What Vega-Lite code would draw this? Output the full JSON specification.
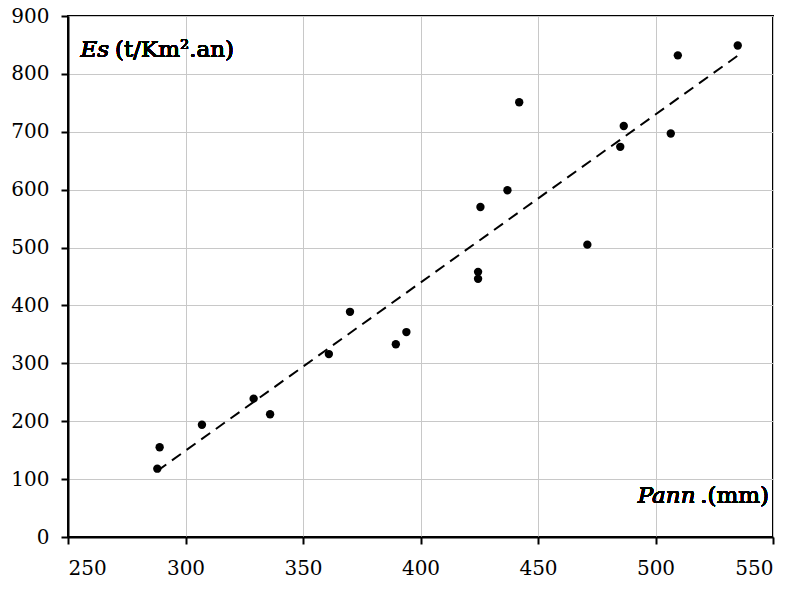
{
  "$schema": "https://vega.github.io/schema/vega-lite/v6.json",
  "width": 705,
  "height": 521,
  "autosize": {"type": "none"},
  "padding": {"left": 68, "top": 16, "right": 22, "bottom": 52},
  "background": "white",
  "config": {
    "view": {"stroke": "black", "strokeWidth": 2},
    "font": "DejaVu Serif",
    "text": {"font": "DejaVu Serif", "fontWeight": 400, "color": "black"},
    "axis": {
      "labelFont": "DejaVu Serif",
      "labelFontSize": 20,
      "labelFontWeight": 400,
      "labelColor": "black",
      "domainColor": "black",
      "domainWidth": 2,
      "tickColor": "black",
      "tickWidth": 2,
      "tickSize": 7,
      "gridColor": "#c8c8c8",
      "gridWidth": 1,
      "title": null
    }
  },
  "data": {
    "values": [
      {"x": 288, "y": 118},
      {"x": 289, "y": 155},
      {"x": 307, "y": 194},
      {"x": 329, "y": 239},
      {"x": 336, "y": 212},
      {"x": 361, "y": 316},
      {"x": 370, "y": 389},
      {"x": 389.5, "y": 333},
      {"x": 394, "y": 354},
      {"x": 424.5, "y": 458},
      {"x": 424.5, "y": 446},
      {"x": 425.5, "y": 570},
      {"x": 437, "y": 599},
      {"x": 442, "y": 751},
      {"x": 471, "y": 505},
      {"x": 485, "y": 674},
      {"x": 486.5, "y": 710},
      {"x": 506.5, "y": 697},
      {"x": 509.5, "y": 832},
      {"x": 535, "y": 849}
    ]
  },
  "layer": [
    {
      "transform": [{"regression": "y", "on": "x"}],
      "mark": {"type": "line", "color": "black", "strokeWidth": 2, "strokeDash": [11, 7]},
      "encoding": {
        "x": {"field": "x", "type": "quantitative", "scale": {"domain": [250, 550], "nice": false, "zero": false},
              "axis": {"values": [250, 300, 350, 400, 450, 500, 550], "labelPadding": 14, "grid": true}},
        "y": {"field": "y", "type": "quantitative", "scale": {"domain": [0, 900], "nice": false},
              "axis": {"values": [0, 100, 200, 300, 400, 500, 600, 700, 800, 900], "labelPadding": 12, "grid": true}}
      }
    },
    {
      "mark": {"type": "circle", "color": "black", "opacity": 1, "size": 70},
      "encoding": {
        "x": {"field": "x", "type": "quantitative"},
        "y": {"field": "y", "type": "quantitative"}
      }
    },
    {
      "mark": {"type": "text", "fontStyle": "italic", "fontSize": 23, "align": "left", "baseline": "alphabetic"},
      "encoding": {"x": {"datum": 255.3}, "y": {"datum": 830}, "text": {"value": "Es"}}
    },
    {
      "mark": {"type": "text", "fontSize": 23, "align": "left", "baseline": "alphabetic"},
      "encoding": {"x": {"datum": 270}, "y": {"datum": 830}, "text": {"value": "(t/Km².an)"}}
    },
    {
      "mark": {"type": "text", "fontStyle": "italic", "fontSize": 23, "align": "right", "baseline": "alphabetic"},
      "encoding": {"x": {"datum": 517}, "y": {"datum": 58}, "text": {"value": "Pann"}}
    },
    {
      "mark": {"type": "text", "fontSize": 23, "align": "left", "baseline": "alphabetic"},
      "encoding": {"x": {"datum": 519}, "y": {"datum": 58}, "text": {"value": ".(mm)"}}
    }
  ]
}
